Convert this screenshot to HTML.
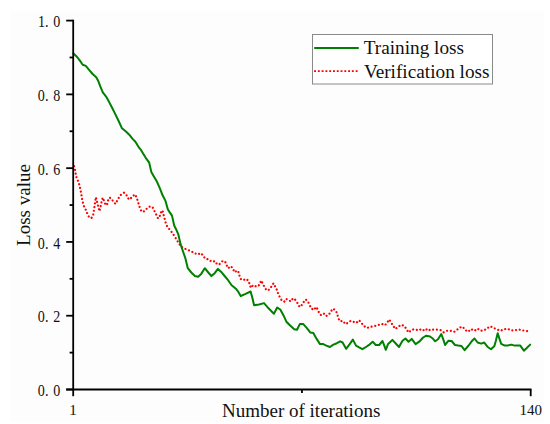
<!DOCTYPE html>
<html><head><meta charset="utf-8"><style>
html,body{margin:0;padding:0;background:#fff;}
svg{display:block;}
text{font-family:"Liberation Serif",serif;fill:#111;}
</style></head><body>
<svg width="550" height="424" viewBox="0 0 550 424">
<rect x="0" y="0" width="550" height="424" fill="#ffffff"/>
<rect x="10.5" y="11.5" width="533.5" height="410.5" fill="#fdfdfd"/>
<g font-size="15">
<text transform="translate(38.1 27.20) scale(0.87 1)" x="0 8.05 17.47" y="0" font-size="16.2">1.0</text><text transform="translate(37.7 100.98) scale(0.87 1)" x="0 8.51 17.93" y="0" font-size="16.2">0.8</text><text transform="translate(37.7 174.76) scale(0.87 1)" x="0 8.51 17.93" y="0" font-size="16.2">0.6</text><text transform="translate(37.7 248.54) scale(0.87 1)" x="0 8.51 17.93" y="0" font-size="16.2">0.4</text><text transform="translate(37.7 322.32) scale(0.87 1)" x="0 8.51 17.93" y="0" font-size="16.2">0.2</text><text transform="translate(37.7 396.10) scale(0.87 1)" x="0 8.51 17.93" y="0" font-size="16.2">0.0</text>
<text x="72.9" y="414.8" text-anchor="middle">1</text>
<text x="530.7" y="414.8" text-anchor="middle">140</text>
</g>
<text x="222" y="416.6" font-size="19">Number of iterations</text>
<text transform="translate(29.6,245.9) rotate(-90)" x="0" y="0" font-size="19">Loss value</text>
<polyline points="74.1,166.2 75.0,169.7 75.7,173.6 76.5,177.4 78.0,180.9 79.2,184.5 80.1,188.0 80.9,191.8 81.5,195.3 82.1,199.1 83.0,202.8 83.9,206.2 85.7,209.7 87.2,213.3 88.8,216.6 91.2,218.3 93.1,215.6 95.9,197.1 97.8,204.8 99.5,211.3 101.9,200.3 102.8,197.7 105.5,204.8 106.9,205.1 108.7,198.0 110.4,197.9 113.0,201.0 115.5,203.9 118.7,198.0 120.5,195.1 124.0,192.7 126.3,194.7 128.0,198.3 130.0,199.5 132.1,196.5 135.1,194.4 136.7,197.7 140.0,208.3 141.8,211.8 144.2,211.3 146.9,208.5 150.1,206.2 152.8,207.7 158.0,218.3 159.2,217.7 161.5,210.9 162.5,210.4 166.2,224.8 168.1,227.8 170.6,230.4 172.7,233.5 174.9,236.8 177.0,240.3 178.8,243.2 181.2,246.7 184.0,248.1 187.6,250.0 190.8,250.9 194.0,252.8 197.5,254.5 201.0,253.1 203.2,255.9 205.3,258.7 208.8,259.4 211.8,261.8 215.1,261.1 217.1,264.4 219.6,264.0 222.5,261.1 225.0,261.4 226.4,264.7 228.1,268.2 230.9,266.1 233.1,268.9 234.5,272.2 236.6,270.8 238.1,270.8 239.2,274.8 240.4,278.8 243.2,280.2 246.0,278.8 248.4,280.8 249.6,284.0 250.8,287.8 253.1,285.1 255.9,286.4 258.3,286.1 260.2,283.0 261.2,280.5 263.0,284.0 264.7,287.5 266.8,290.4 269.0,289.7 271.5,286.4 273.5,283.3 275.3,286.8 277.2,290.4 278.2,293.9 280.0,297.5 281.7,300.3 284.2,301.7 286.2,298.9 288.5,300.0 290.9,301.4 293.0,298.2 295.3,299.8 297.7,303.3 299.5,306.9 301.2,305.9 303.3,302.6 305.8,299.5 308.0,301.5 309.4,304.8 311.4,308.3 313.7,310.0 316.1,306.9 317.5,309.0 318.9,312.3 320.8,315.0 323.6,313.3 326.0,316.1 328.8,314.7 330.9,311.4 333.1,308.6 335.9,310.8 337.4,314.4 338.3,318.1 339.8,321.2 343.0,320.9 345.4,324.1 347.8,322.9 350.7,320.9 353.5,321.9 356.3,322.9 359.1,320.2 361.7,323.3 364.2,326.2 367.1,328.0 370.5,326.9 373.7,326.2 377.8,325.2 381.6,323.8 384.9,325.2 387.0,322.9 389.1,319.5 391.2,322.6 393.3,326.2 395.5,329.0 397.6,327.2 401.1,324.8 404.0,325.8 406.5,329.0 408.5,332.5 411.0,330.4 413.2,329.4 416.4,330.0 419.2,329.0 422.6,330.8 425.5,328.6 428.1,330.8 430.7,329.4 434.2,329.7 437.7,329.7 440.8,330.1 443.7,332.3 446.9,330.8 450.5,330.8 454.0,331.8 456.8,330.0 459.7,327.6 462.5,326.6 465.3,330.0 468.2,331.8 471.0,329.0 474.5,330.8 477.6,328.6 480.5,330.8 484.0,330.4 487.1,328.3 490.2,326.2 493.9,328.0 497.0,329.4 500.5,330.8 504.0,329.2 507.6,328.7 511.1,330.4 514.7,330.4 518.5,329.4 522.5,330.4 526.0,330.8 529.8,331.8" fill="none" stroke="#ff0000" stroke-width="2.2" stroke-dasharray="0.01 3.75" stroke-linecap="round" stroke-linejoin="round"/>
<polyline points="73.5,53.5 77.1,57.0 79.9,60.6 82.7,64.8 85.8,65.9 89.1,69.8 92.6,74.0 96.2,77.3 98.3,81.1 100.4,86.7 102.8,92.4 106.1,96.6 108.9,101.6 112.1,107.7 114.9,113.4 118.4,120.5 122.0,128.3 126.2,131.8 129.8,135.3 132.6,138.9 135.4,141.7 138.3,146.6 141.1,150.2 145.7,157.8 149.2,162.7 151.3,171.9 154.2,176.9 157.0,181.8 159.8,188.2 162.6,195.3 165.5,200.9 167.8,209.2 169.9,212.7 172.0,215.6 174.2,225.5 176.3,229.7 178.4,234.7 180.5,243.9 182.6,250.2 185.5,258.7 187.8,268.2 191.3,272.5 194.9,276.0 198.1,276.7 201.2,273.9 204.8,268.2 208.3,272.5 211.4,276.0 214.7,273.2 217.9,268.9 221.0,271.7 224.6,276.0 228.1,280.2 231.6,285.2 235.9,288.7 237.8,291.1 240.7,296.0 245.6,293.9 250.6,291.5 252.3,297.5 254.1,305.2 259.1,304.5 264.0,303.1 269.0,308.8 273.9,313.7 277.2,307.6 280.3,309.5 283.5,315.4 286.4,321.7 289.9,325.3 294.2,329.2 297.0,329.8 299.8,324.1 303.3,324.1 306.9,328.1 310.4,332.6 313.3,333.1 316.1,338.0 317.1,339.6 320.0,344.1 322.8,343.9 326.3,345.6 329.9,347.0 333.4,344.6 336.9,343.2 340.2,341.3 342.6,342.5 346.1,348.8 349.7,344.1 352.9,339.6 356.0,345.6 359.1,347.4 362.4,349.2 365.9,347.0 369.5,344.6 372.7,341.7 375.7,345.0 379.2,345.0 382.5,341.0 384.2,345.3 385.8,349.8 388.1,343.9 392.4,339.9 395.5,343.2 399.0,347.0 402.3,341.0 405.4,338.5 408.5,341.7 411.7,338.9 415.6,344.1 419.2,341.7 423.1,337.5 426.3,335.7 430.0,336.5 432.4,338.2 435.2,341.3 438.0,339.3 441.3,334.0 443.1,338.9 445.1,345.0 448.3,340.8 451.6,341.0 455.0,345.0 458.3,345.6 461.5,346.0 464.6,350.2 468.2,346.0 471.7,341.3 474.5,338.5 477.6,342.5 481.3,343.6 484.2,342.5 487.4,346.7 491.0,349.2 494.4,346.0 495.8,341.0 497.7,333.3 499.5,338.9 501.2,343.9 504.8,345.6 507.6,345.6 511.1,344.6 514.7,345.6 520.3,345.6 523.9,350.7 527.0,347.8 530.2,344.6" fill="none" stroke="#008000" stroke-width="2" stroke-linejoin="round" stroke-linecap="round"/>
<g stroke="#000" stroke-width="1.8" fill="none" stroke-linejoin="round">
<line x1="73.2" y1="19.8" x2="73.2" y2="390.3"/>
<line x1="66.2" y1="389.5" x2="531.5" y2="389.5"/>
<line x1="66.2" y1="20.60" x2="73.2" y2="20.60"/><line x1="66.2" y1="94.38" x2="73.2" y2="94.38"/><line x1="66.2" y1="168.16" x2="73.2" y2="168.16"/><line x1="66.2" y1="241.94" x2="73.2" y2="241.94"/><line x1="66.2" y1="315.72" x2="73.2" y2="315.72"/><line x1="66.2" y1="389.50" x2="73.2" y2="389.50"/><line x1="69.6" y1="57.49" x2="73.2" y2="57.49"/><line x1="69.6" y1="131.27" x2="73.2" y2="131.27"/><line x1="69.6" y1="205.05" x2="73.2" y2="205.05"/><line x1="69.6" y1="278.83" x2="73.2" y2="278.83"/><line x1="69.6" y1="352.61" x2="73.2" y2="352.61"/><line x1="73.2" y1="389.5" x2="73.2" y2="396.2"/><line x1="530.7" y1="389.5" x2="530.7" y2="396.2"/><line x1="301.95" y1="389.5" x2="301.95" y2="393"/>
</g>
<rect x="312.5" y="34.5" width="180" height="49.5" fill="#fff" stroke="#8a8a8a" stroke-width="1"/>
<line x1="315" y1="48" x2="358" y2="48" stroke="#008000" stroke-width="2.2" stroke-linecap="round"/>
<line x1="314.1" y1="71.1" x2="358" y2="71.1" stroke="#ff0000" stroke-width="1.9" stroke-dasharray="1.9 1.88"/>
<text x="363.7" y="54.1" font-size="19.25">Training loss</text>
<text x="363.9" y="77.8" font-size="19.25">Verification loss</text>
</svg>
</body></html>
